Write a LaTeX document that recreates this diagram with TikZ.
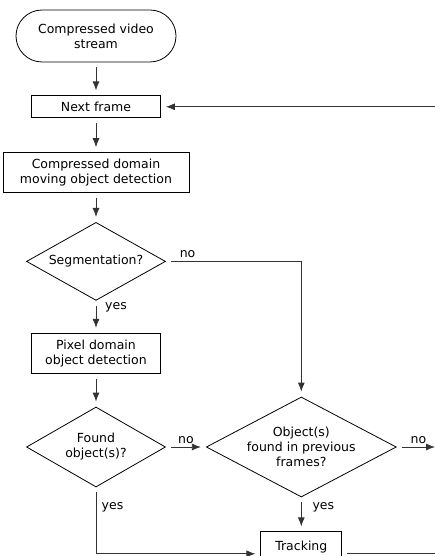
\documentclass[tikz,border=0pt]{standalone}
\usepackage{fontspec}
\setmainfont{DejaVu Sans}
\usetikzlibrary{positioning,shapes.geometric,arrows.meta}
\tikzstyle{terminal} = [draw=black,
						thick,
						rounded corners=26pt,
						align=center,
						inner sep=0pt]
\tikzstyle{process} = [draw=black,
					   thick,
					   align=center,
					   inner sep=0pt]
\tikzstyle{decision} = [diamond,
						draw=black,
						thick,
						align=center,
						inner sep=0pt]
\tikzstyle{flow} = [thick,
					draw=black!80,
					-{Latex[length=9pt,width=7pt]},
					shorten <=5pt,
					shorten >=5pt]
\tikzstyle{plain} = [thick,
					 draw=black!80,
					 shorten <=5pt]

\begin{document}
\begin{tikzpicture}[x=1pt, y=1pt, font=\fontsize{12.5}{15}\selectfont]
	\useasboundingbox (0,0) rectangle (435,-556);
	\clip (0,0) rectangle (435,-556);

	%%%%%%%%%%%%%%
	% MAIN COLUMN %
	%%%%%%%%%%%%%%
	\node[terminal, minimum width=160pt, minimum height=52pt] (start) at (96,-36) {Compressed video\\stream};
	\node[process, below=33pt of start, minimum width=129pt, minimum height=22pt] (next) {Next frame};
	\node[process, below=34pt of next, minimum width=186pt, minimum height=40pt] (cdom) {Compressed domain\\moving object detection};
	\node[decision, below=29pt of cdom, minimum width=139pt, minimum height=78pt, aspect=1.8] (seg) {Segmentation?};
	\node[process, below=32pt of seg, minimum width=129pt, minimum height=40pt] (pix) {Pixel domain\\object detection};
	\node[decision, below=33pt of pix, minimum width=139pt, minimum height=80pt, aspect=1.75] (found) {Found\\object(s)?};

	%%%%%%%%%%%%%%%
	% RIGHT COLUMN %
	%%%%%%%%%%%%%%%
	\node[decision, right=40pt of found, minimum width=190pt, minimum height=100pt, aspect=1.9] (prev) {Object(s)\\found in previous\\frames?};
	\node[process, below=34pt of prev, minimum width=81pt, minimum height=44pt, text depth=16pt] (track) {Tracking};

	% free ends at the right border
	\coordinate (loopin) at (440,0 |- next.east);
	\coordinate (noout) at (440,0 |- prev.east);
	\coordinate (trackout) at (440,0 |- track.east);

	%%%%%%%%%%%%%%
	% CONNECTORS %
	%%%%%%%%%%%%%%
	\draw[flow] (start) -- (next);
	\draw[flow] (loopin) -- (next);
	\draw[flow] (next) -- (cdom);
	\draw[flow] (cdom) -- (seg);
	\draw[flow] (seg) -- node[right, pos=0.2, xshift=5.5pt] (yes1) {yes} (pix);
	\draw[flow] (seg.east) -| node[above, pos=0.08] (no1) {no} (prev.north);
	\draw[flow] (pix) -- (found);
	\draw[flow] (found) -- node[above] (no2) {no} (prev);
	\draw[flow] (prev) -- node[above] (no3) {no} (noout);
	\draw[flow] (prev) -- node[right, pos=0.29, xshift=7.5pt] (yes3) {yes} (track);
	\draw[flow] (found.south) |- node[right, pos=0.15, xshift=2pt] (yes2) {yes} (track.west);
	\draw[plain] (track.east) -- (trackout);

\end{tikzpicture}
\end{document}
